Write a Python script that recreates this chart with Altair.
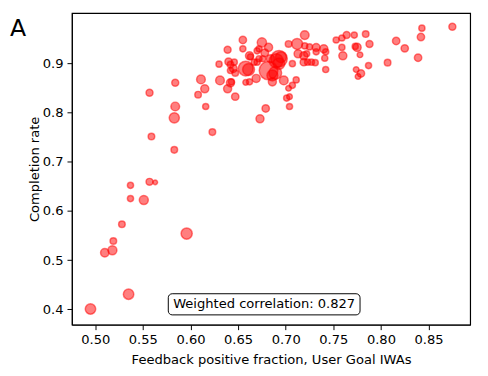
import altair as alt
import pandas as pd

feedback = [0.495, 0.535, 0.510, 0.518, 0.519, 0.528, 0.537, 0.537, 0.551, 0.557,
            0.563, 0.596, 0.583, 0.559, 0.557, 0.584, 0.584, 0.583, 0.611, 0.608,
            0.616, 0.615, 0.623, 0.630, 0.631, 0.639, 0.642, 0.647, 0.639, 0.640,
            0.642, 0.655, 0.655, 0.645, 0.647, 0.658, 0.661, 0.662, 0.662, 0.658,
            0.673, 0.679, 0.669, 0.670, 0.675, 0.672, 0.682, 0.678, 0.693, 0.695,
            0.693, 0.682, 0.686, 0.686, 0.698, 0.707, 0.684, 0.676, 0.667, 0.663,
            0.646, 0.643, 0.642, 0.701, 0.704, 0.704, 0.711, 0.703, 0.712, 0.720,
            0.713, 0.719, 0.720, 0.725, 0.732, 0.732, 0.740, 0.742, 0.741, 0.719,
            0.723, 0.731, 0.742, 0.753, 0.759, 0.764, 0.772, 0.784, 0.759, 0.760,
            0.775, 0.773, 0.778, 0.788, 0.774, 0.779, 0.776, 0.787, 0.807, 0.816,
            0.825, 0.839, 0.842, 0.843, 0.875, 0.727, 0.722, 0.707, 0.703, 0.670,
            0.672, 0.689, 0.690]
completion = [0.401, 0.431, 0.515, 0.520, 0.539, 0.573, 0.625, 0.652, 0.622, 0.659,
              0.658, 0.554, 0.724, 0.751, 0.840, 0.860, 0.812, 0.789, 0.867, 0.836,
              0.812, 0.848, 0.760, 0.898, 0.865, 0.848, 0.860, 0.832, 0.927, 0.903,
              0.897, 0.947, 0.929, 0.889, 0.880, 0.889, 0.887, 0.915, 0.862, 0.861,
              0.787, 0.808, 0.869, 0.902, 0.942, 0.929, 0.932, 0.921, 0.909, 0.912,
              0.899, 0.885, 0.875, 0.862, 0.865, 0.855, 0.909, 0.909, 0.902, 0.913,
              0.902, 0.862, 0.885, 0.829, 0.832, 0.812, 0.866, 0.939, 0.939, 0.957,
              0.919, 0.915, 0.935, 0.933, 0.932, 0.923, 0.929, 0.923, 0.910, 0.902,
              0.902, 0.901, 0.887, 0.947, 0.951, 0.957, 0.957, 0.959, 0.932, 0.915,
              0.932, 0.934, 0.917, 0.939, 0.887, 0.879, 0.873, 0.895, 0.901, 0.945,
              0.930, 0.911, 0.953, 0.971, 0.974, 0.902, 0.919, 0.899, 0.849, 0.925,
              0.909, 0.880, 0.905]
weight = [100, 100, 65, 75, 40, 40, 35, 35, 75, 45,
          20, 115, 40, 40, 45, 45, 70, 95, 70, 40,
          35, 60, 40, 35, 70, 60, 60, 50, 45, 50,
          40, 50, 35, 55, 40, 200, 130, 60, 35, 30,
          60, 50, 60, 35, 80, 35, 60, 55, 250, 110,
          120, 320, 110, 60, 70, 35, 60, 35, 35, 35,
          35, 35, 35, 35, 30, 35, 35, 40, 110, 70,
          60, 60, 35, 35, 55, 35, 60, 35, 35, 50,
          35, 35, 35, 35, 35, 45, 35, 40, 35, 60,
          60, 35, 30, 45, 30, 50, 30, 35, 40, 50,
          50, 50, 50, 35, 45, 35, 35, 35, 30, 35,
          35, 150, 180]

annotation = ["Weighted correlation: 0.827"]
panel_label = ["A"]

df = pd.DataFrame({"feedback": feedback, "completion": completion, "weight": weight})

FONT = "DejaVu Sans"
FS = 13.3

x_scale = alt.Scale(domain=[0.4755, 0.8937], nice=False, zero=False)
y_scale = alt.Scale(domain=[0.369, 1.0018], nice=False, zero=False)

points = alt.Chart(df).mark_point(
    shape="circle", filled=True, fill="red", stroke="red",
    fillOpacity=0.5, strokeOpacity=0.5, strokeWidth=1.5, opacity=1
).encode(
    x=alt.X("feedback:Q", scale=x_scale,
            axis=alt.Axis(title="Feedback positive fraction, User Goal IWAs",
                          values=[0.5, 0.55, 0.6, 0.65, 0.7, 0.75, 0.8, 0.85],
                          format=".2f", grid=False, tickSize=5, labelPadding=3,
                          titlePadding=7, labelFontSize=FS, titleFontSize=FS,
                          labelFont=FONT, titleFont=FONT, titleFontWeight="normal",
                          labelColor="black", titleColor="black",
                          tickColor="black", domainColor="black")),
    y=alt.Y("completion:Q", scale=y_scale,
            axis=alt.Axis(title="Completion rate",
                          values=[0.4, 0.5, 0.6, 0.7, 0.8, 0.9],
                          format=".1f", grid=False, tickSize=5, labelPadding=4,
                          titlePadding=1, labelFontSize=FS, titleFontSize=FS,
                          labelFont=FONT, titleFont=FONT, titleFontWeight="normal",
                          labelColor="black", titleColor="black",
                          tickColor="black", domainColor="black")),
    size=alt.Size("weight:Q", scale=alt.Scale(domain=[0, 320], range=[0, 360]), legend=None),
)

box = alt.Chart(pd.DataFrame({"t": annotation})).mark_rect(
    fill="white", stroke="black", strokeWidth=1, cornerRadius=4
).encode(x=alt.value(98), x2=alt.value(293), y=alt.value(285.5), y2=alt.value(307))

txt = alt.Chart(pd.DataFrame({"t": annotation})).mark_text(
    align="center", baseline="middle", fontSize=FS, font=FONT, color="black"
).encode(text="t:N", x=alt.value(195.5), y=alt.value(296.5))

label = alt.Chart(pd.DataFrame({"t": panel_label})).mark_text(
    align="left", baseline="alphabetic", fontSize=24, font=FONT, color="black"
).encode(text="t:N", x=alt.value(-63), y=alt.value(23))

chart = alt.layer(points, box, txt, label).properties(
    width=405, height=317,
    padding={"left": 65, "top": 2, "right": 10, "bottom": 45},
    autosize=alt.AutoSizeParams(type="none"),
).configure_view(stroke="black", strokeWidth=1.2)

chart.save("out.html", embed_options={"renderer": "svg", "actions": False})
